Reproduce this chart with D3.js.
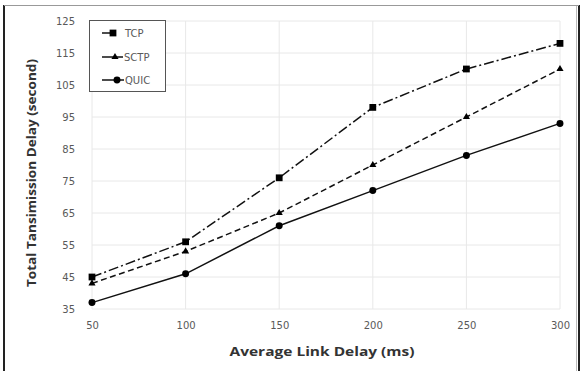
<!DOCTYPE html>
<html><head><meta charset="utf-8">
<script src="https://cdn.jsdelivr.net/npm/d3@7"></script>
<style>body{margin:0;background:#fff}svg{display:block}</style>
</head><body>
<svg id="c" width="583" height="371"></svg>
<script>
const categories = [50, 100, 150, 200, 250, 300];
const tcp  = [45, 56, 76, 98, 110, 118];
const sctp = [43, 53, 65, 80, 95, 110];
const quic = [37, 46, 61, 72, 83, 93];
const yTicks = [35, 45, 55, 65, 75, 85, 95, 105, 115, 125];
const seriesNames = ["TCP", "SCTP", "QUIC"];

(function () {
const svg = d3.select("#c");
const W = 583, H = 371;
const pLeft = 92, pRight = 560, pTop = 21, pBottom = 309;
const tickFont = "'DejaVu Sans', sans-serif";

const x = d3.scaleLinear().domain([50, 300]).range([pLeft, pRight]);
const y = d3.scaleLinear().domain([35, 125]).range([pBottom, pTop]);

// outer frame
svg.append("line").attr("x1",4).attr("x2",4).attr("y1",5).attr("y2",H).attr("stroke","#222").attr("stroke-width",2);
svg.append("line").attr("x1",579).attr("x2",579).attr("y1",5).attr("y2",H).attr("stroke","#222").attr("stroke-width",2);
svg.append("line").attr("x1",576.5).attr("x2",576.5).attr("y1",6).attr("y2",H).attr("stroke","#bbb").attr("stroke-width",1);
svg.append("line").attr("x1",4).attr("x2",579).attr("y1",5.5).attr("y2",5.5).attr("stroke","#999").attr("stroke-width",1);

// gridlines
const g = svg.append("g");
g.selectAll(".hg").data(yTicks).join("line")
  .attr("x1", pLeft).attr("x2", pRight)
  .attr("y1", d => y(d)).attr("y2", d => y(d))
  .attr("stroke", "#e8e8e8").attr("stroke-width", 1);
g.selectAll(".vg").data(categories).join("line")
  .attr("x1", d => x(d)).attr("x2", d => x(d))
  .attr("y1", pTop).attr("y2", pBottom)
  .attr("stroke", "#e8e8e8").attr("stroke-width", 1);

// axes
const yAxis = d3.axisLeft(y).tickValues(yTicks).tickSize(0).tickPadding(17);
const ya = svg.append("g").attr("transform", `translate(${pLeft},0)`).call(yAxis);
const xAxis = d3.axisBottom(x).tickValues(categories).tickSize(0).tickPadding(13);
const xa = svg.append("g").attr("transform", `translate(0,${pBottom})`).call(xAxis);
[ya, xa].forEach(a => {
  a.select(".domain").remove();
  a.selectAll("text").attr("fill", "#595959").style("font-family", tickFont).style("font-size", "10px");
});

// titles
svg.append("text").attr("x", 322).attr("y", 356).attr("text-anchor", "middle")
  .attr("textLength", 185).attr("lengthAdjust", "spacingAndGlyphs")
  .style("font-family", "'Open Sans', sans-serif").style("font-weight", "bold").style("font-size", "13px").attr("fill", "#333")
  .text("Average Link Delay (ms)");
svg.append("text").attr("transform", "translate(36,173) rotate(-90)").attr("text-anchor", "middle")
  .attr("textLength", 228).attr("lengthAdjust", "spacingAndGlyphs")
  .style("font-family", "'Open Sans', sans-serif").style("font-weight", "bold").style("font-size", "13px").attr("fill", "#333")
  .text("Total Tansimission Delay (second)");

// series
const data = [tcp, sctp, quic];
const dashes = ["10,3,2,3", "6,3.5", null];
const line = d3.line().x((d, i) => x(categories[i])).y(d => y(d));
const sym = [d3.symbolSquare, d3.symbolTriangle, d3.symbolCircle];
const symSize = [46, 22, 38];

data.forEach((vals, si) => {
  svg.append("path").datum(vals).attr("d", line)
    .attr("fill", "none").attr("stroke", "#111").attr("stroke-width", 1.5)
    .attr("stroke-dasharray", dashes[si]);
  svg.selectAll(".m" + si).data(vals).join("path")
    .attr("transform", (d, i) => `translate(${x(categories[i])},${y(d)})`)
    .attr("d", d3.symbol().type(sym[si]).size(symSize[si]))
    .attr("fill", "#000");
});

// legend
const lg = svg.append("g");
lg.append("rect").attr("x", 89.5).attr("y", 20.5).attr("width", 76).attr("height", 71)
  .attr("fill", "#fff").attr("stroke", "#555").attr("stroke-width", 1);
const ly = [33, 57, 80];
const lineEnd = [116, 123, 124];
const symX = [113, 115, 117];
const textX = [125, 124, 125];
seriesNames.forEach((n, i) => {
  lg.append("line").attr("x1", 102).attr("x2", lineEnd[i]).attr("y1", ly[i]).attr("y2", ly[i])
    .attr("stroke", "#111").attr("stroke-width", 1.5);
  lg.append("path").attr("transform", `translate(${symX[i]},${ly[i]})`)
    .attr("d", d3.symbol().type(sym[i]).size(symSize[i])).attr("fill", "#000");
  lg.append("text").attr("x", textX[i]).attr("y", ly[i] + 3.6)
    .style("font-family", tickFont).style("font-size", "10px").attr("fill", "#595959")
    .text(n);
});
})();
</script>
</body></html>
